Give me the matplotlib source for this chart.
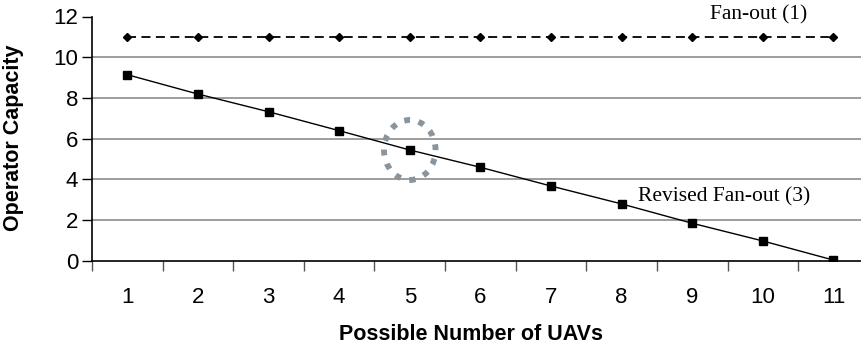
import matplotlib
matplotlib.use("Agg")
import matplotlib.pyplot as plt
from matplotlib.patches import Ellipse
from matplotlib.ticker import FixedLocator

uavs = [1, 2, 3, 4, 5, 6, 7, 8, 9, 10, 11]
fan_out = [11, 11, 11, 11, 11, 11, 11, 11, 11, 11, 11]
revised = [9.14, 8.19, 7.32, 6.39, 5.44, 4.59, 3.67, 2.79, 1.84, 0.97, 0.03]
yticks = [0, 2, 4, 6, 8, 10, 12]

W, H = 861, 349
fig = plt.figure(figsize=(8.61, 3.49), dpi=100)
ax = fig.add_axes([92/W, (H-260.7)/H, 1 - 92/W, (260.7-16.5)/H])

for y in yticks[1:-1]:
    ax.axhline(y, color="#8c8c8c", lw=1.2, zorder=0)

ax.plot(uavs, fan_out, color="black", ls=(0, (5, 3)), lw=1.3, marker="D",
        markersize=4.5, zorder=3)
ax.plot(uavs, revised, color="black", lw=1.0, marker="s", markersize=6, zorder=3)

ell = Ellipse((uavs[4], revised[4]), width=0.73, height=2.95, fill=False,
              edgecolor="#8a949c", lw=4.2, ls=(0, (1.0, 1.5)), zorder=2)
ax.add_patch(ell)

ax.text(9.94, 12.07, "Fan-out (1)", family="Liberation Serif", fontsize=15.5,
        ha="center", va="center")
ax.text(9.45, 3.15, "Revised Fan-out (3)", family="Liberation Serif", fontsize=15.5,
        ha="center", va="center")

ax.set_xlim(0.5, 11.39)
ax.set_ylim(0, 12)
ax.set_yticks(yticks)
ax.set_xticks(uavs)
ax.xaxis.set_minor_locator(FixedLocator([x - 0.5 for x in uavs]))
ax.tick_params(axis="x", which="major", length=0, pad=19, labelsize=16)
ax.tick_params(axis="x", which="minor", length=7, width=1, color="#555555")
ax.tick_params(axis="y", length=7, width=1, labelsize=16, pad=3)
for lab in ax.get_xticklabels() + ax.get_yticklabels():
    lab.set_family("Liberation Sans")

ax.spines["top"].set_visible(False)
ax.spines["right"].set_visible(False)
ax.spines["left"].set_linewidth(1.2)
ax.spines["bottom"].set_linewidth(1.2)

fig.text(471 / W, 1 - 334 / H, "Possible Number of UAVs", family="Liberation Sans",
         fontweight="bold", fontsize=15.5, ha="center", va="center")
fig.text(14 / W, 1 - 138 / H, "Operator Capacity", family="Liberation Sans",
         fontweight="bold", fontsize=15.5, ha="center", va="center", rotation=90)

fig.savefig("out.png", dpi=100)
